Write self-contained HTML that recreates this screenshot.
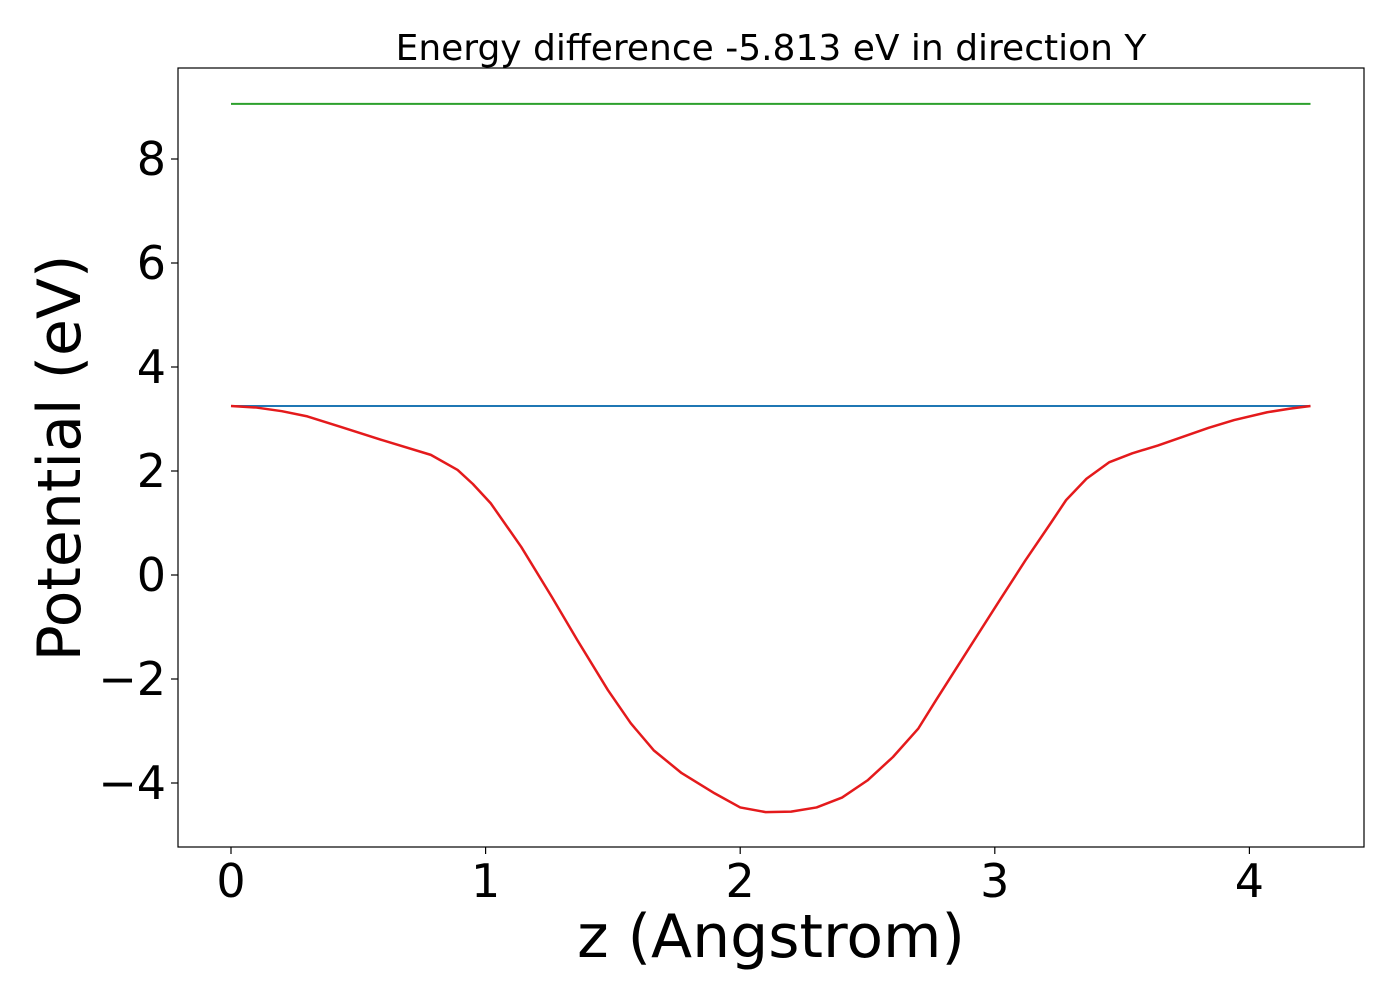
<!DOCTYPE html>
<html><head><meta charset="utf-8"><style>
body{margin:0;background:#fff}
svg text{font-family:"DejaVu Sans","Liberation Sans",sans-serif;fill:#000}
</style></head><body>
<svg id="chart" width="1400" height="1000" xmlns="http://www.w3.org/2000/svg">
<text x="771" y="60" font-size="36" text-anchor="middle">Energy difference -5.813 eV in direction Y</text>
<g id="plot"></g>
<rect x="178" y="68" width="1186" height="779" fill="none" stroke="#000" stroke-width="1.2"/>
<text x="771" y="957" font-size="60" text-anchor="middle">z (Angstrom)</text>
<text transform="translate(80,458) rotate(-90)" font-size="60" text-anchor="middle">Potential (eV)</text>
</svg>
<script>
const xTicks=[0,1,2,3,4];
const yTicks=[-4,-2,0,2,4,6,8];
const yTickLabels=["\u22124","\u22122","0","2","4","6","8"];
const greenLevel=9.06;
const blueLevel=3.25;
const zVals=[0,0.1,0.2,0.3,0.43,0.59,0.785,0.89,0.95,1.02,1.14,1.26,1.36,1.48,1.57,1.66,1.77,1.9,2.0,2.1,2.2,2.3,2.4,2.5,2.6,2.7,2.77,2.9,3.02,3.12,3.22,3.28,3.36,3.45,3.54,3.64,3.74,3.84,3.94,4.07,4.16,4.24];
const potVals=[3.25,3.22,3.15,3.05,2.85,2.6,2.31,2.02,1.75,1.38,0.54,-0.42,-1.25,-2.21,-2.85,-3.37,-3.81,-4.2,-4.47,-4.56,-4.55,-4.47,-4.28,-3.95,-3.5,-2.95,-2.4,-1.4,-0.48,0.28,1.0,1.44,1.85,2.17,2.34,2.49,2.66,2.83,2.98,3.13,3.2,3.25];
const X=v=>231+254.6*v, Y=v=>575-52*v;
const ns="http://www.w3.org/2000/svg", g=document.getElementById('plot');
function mk(t,a){const e=document.createElementNS(ns,t);for(const k in a)e.setAttribute(k,a[k]);g.appendChild(e);return e;}
xTicks.forEach(v=>{
 const t=mk('line',{x1:X(v),x2:X(v),y1:847,y2:854,stroke:'#000','stroke-width':1.2});
 
 
 const l=mk('text',{x:X(v),y:897,'font-size':46,'text-anchor':'middle'});l.textContent=v;
 
 
});
yTicks.forEach((v,i)=>{
 const t=mk('line',{x1:171,x2:178,y1:Y(v),y2:Y(v),stroke:'#000','stroke-width':1.2});
 
 
 const l=mk('text',{x:166,y:Y(v)+16,'font-size':46,'text-anchor':'end'});l.textContent=yTickLabels[i];
 
 
});
const x0=X(zVals[0]), x1=X(zVals[zVals.length-1]);
const gl=mk('line',{x1:x0,x2:x1,y1:Y(greenLevel),y2:Y(greenLevel),stroke:'#2ca02c','stroke-width':2});


const bl=mk('line',{x1:x0,x2:x1,y1:Y(blueLevel),y2:Y(blueLevel),stroke:'#1f77b4','stroke-width':2});


const rp=mk('polyline',{points:zVals.map((z,i)=>X(z)+','+Y(potVals[i])).join(' '),fill:'none',stroke:'#e41a1c','stroke-width':2.5,'stroke-linejoin':'round'});


</script>
</body></html>
